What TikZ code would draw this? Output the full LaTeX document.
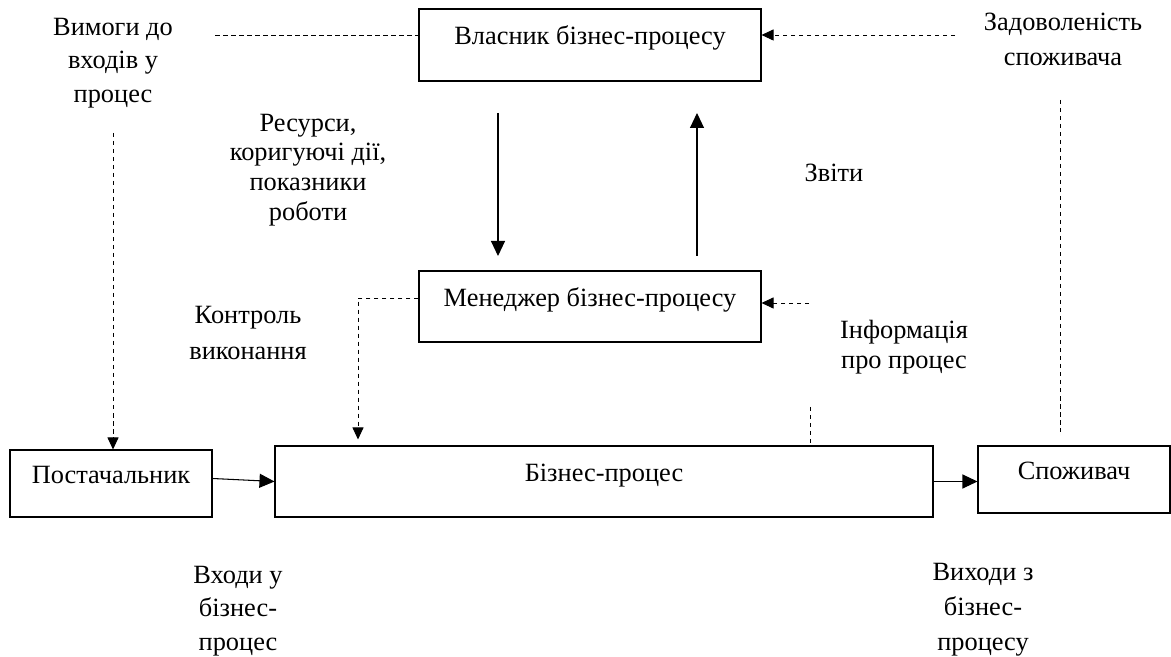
\documentclass[tikz,border=0pt]{standalone}
\usepackage{fontspec}
\setmainfont{Liberation Serif}
\usetikzlibrary{arrows.meta}

\begin{document}
\begin{tikzpicture}[line width=0.6pt,
    box/.style={draw,inner sep=0pt,font=\fontsize{15}{18}\selectfont},
    lbl/.style={align=center},
    arr/.style={-{Triangle[length=0.3cm,width=0.28cm]}},
    dline/.style={dash pattern=on 0.09cm off 0.07cm,line width=0.5pt},
    darr/.style={dline,-{Triangle[length=0.24cm,width=0.22cm]}}]
\useasboundingbox (0,0) rectangle (23.420,13.140);
\coordinate (pv) at (11.800,12.240);
\coordinate (pm) at (11.800,7.010);
\coordinate (pb) at (12.080,3.510);
\coordinate (pp) at (2.220,3.470);
\coordinate (ps) at (21.480,3.550);
\coordinate (rs) at (9.960,10.880);
\coordinate (re) at (9.960,8.020);
\coordinate (zs) at (13.940,8.020);
\coordinate (ze) at (13.940,10.880);
\coordinate (vm) at (4.300,12.440);
\coordinate (zd) at (19.100,12.440);
\coordinate (vv) at (2.260,10.480);
\coordinate (kt) at (7.160,7.180);
\coordinate (inf) at (16.180,7.080);
\coordinate (ib) at (16.200,5.000);
\coordinate (sv1) at (21.200,11.140);
\coordinate (sv2) at (21.200,4.500);
\node [box,minimum width=6.84cm,text height=0.72cm,
    text depth=0.72cm] (vlasnyk) at (pv) {Власник бізнес-процесу};
\node [box,minimum width=6.84cm,text height=0.71cm,
    text depth=0.71cm] (menedzher) at (pm) {Менеджер бізнес-процесу};
\node [box,minimum width=13.16cm,text height=0.71cm,
    text depth=0.71cm] (biznes) at (pb) {Бізнес-процес};
\node [box,minimum width=4.04cm,text height=0.67cm,
    text depth=0.67cm] (postach) at (pp) {Постачальник};
\node [box,minimum width=3.84cm,text height=0.67cm,
    text depth=0.67cm] (spozh) at (ps) {Споживач};
\node [lbl,font=\fontsize{15}{19}\selectfont] (vymogy)
    at (2.260,11.880) {Вимоги до\\входів у\\процес};
\node [lbl,font=\fontsize{15}{17}\selectfont] (resursy)
    at (6.160,9.740) {Ресурси,\\коригуючі дії,\\показники\\роботи};
\node [lbl,font=\fontsize{15}{18}\selectfont] (zvity)
    at (16.680,9.680) {Звіти};
\node [lbl,font=\fontsize{15}{21}\selectfont] (kontrol)
    at (4.960,6.480) {Контроль\\виконання};
\node [lbl,font=\fontsize{15}{17}\selectfont] (informacia)
    at (18.080,6.200) {Інформація\\про процес};
\node [lbl,font=\fontsize{15}{20}\selectfont] (zadovol)
    at (21.260,12.360) {Задоволеність\\споживача};
\node [lbl,font=\fontsize{15}{19}\selectfont] (vhody)
    at (4.760,0.920) {Входи у\\бізнес-\\процес};
\node [lbl,font=\fontsize{15}{20}\selectfont] (vyhody)
    at (19.660,0.940) {Виходи з\\бізнес-\\процесу};
\draw [arr] (rs) -- (re);
\draw [arr] (zs) -- (ze);
\draw [arr] ([yshift=0.1cm]postach.east) -- (biznes.west);
\draw [arr] (biznes.east) -- (biznes.east -| spozh.west);
\draw [dline] (vm) -- (vm -| vlasnyk.west);
\draw [darr] (zd) -- (zd -| vlasnyk.east);
\draw [darr] (vv) -- (vv |- postach.north);
\draw [darr,shorten >=0.12cm] (kt -| menedzher.west) -- (kt)
    -- (kt |- biznes.north);
\draw [darr] (inf) -- (inf -| menedzher.east);
\draw [dline] (ib) -- (ib |- biznes.north);
\draw [dline] (sv1) -- (sv2);
\end{tikzpicture}
\end{document}
